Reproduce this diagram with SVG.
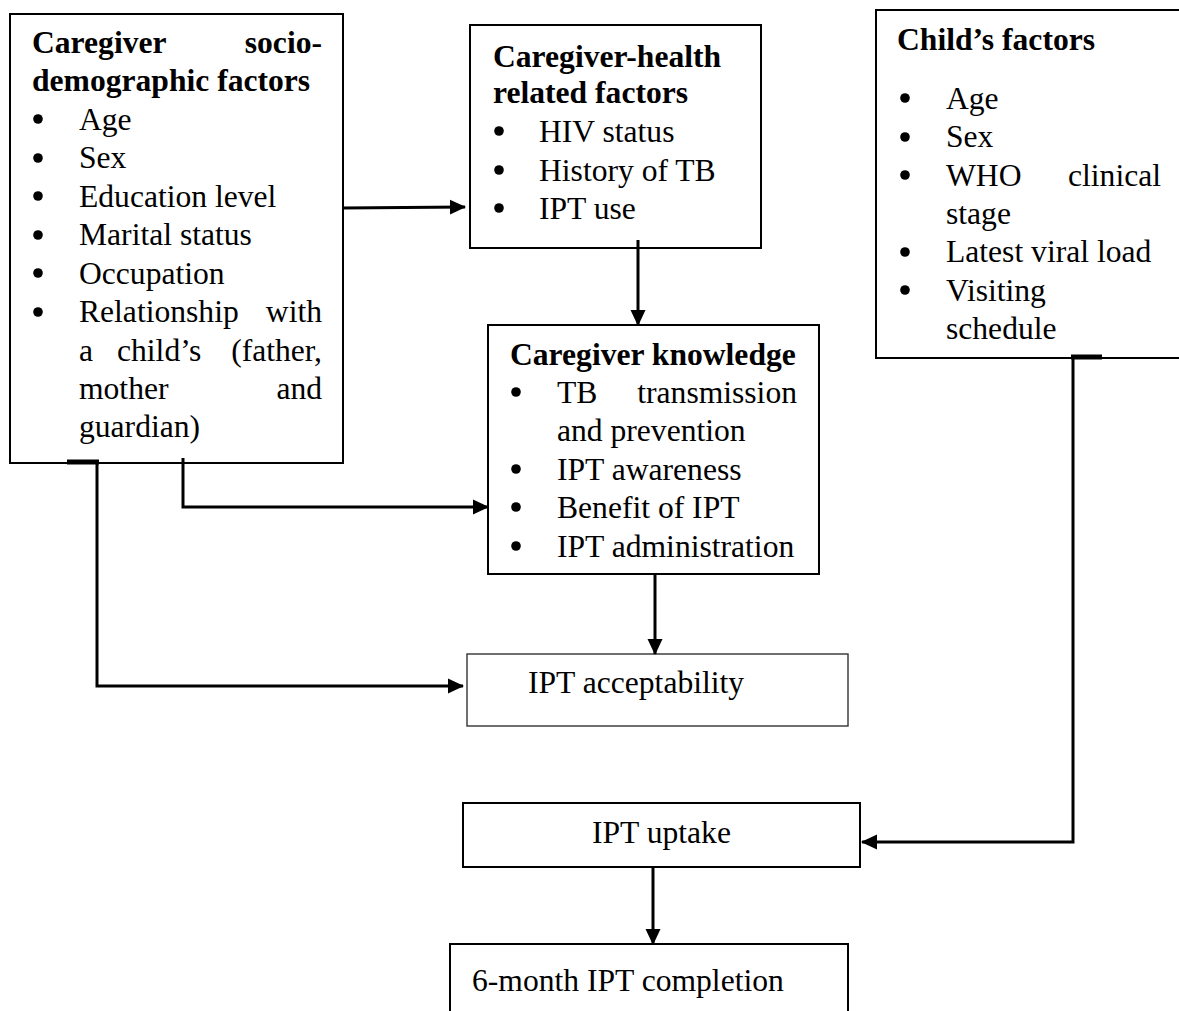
<svg xmlns="http://www.w3.org/2000/svg" width="1179" height="1011" viewBox="0 0 1179 1011" font-family="'Liberation Serif', 'Times New Roman', 'DejaVu Serif', serif">
<style>
  .box{fill:#fff;stroke:#000;stroke-width:2}
  .thin{fill:#fff;stroke:#333;stroke-width:1.4}
  .t{font-size:31.6px;fill:#000}
  .b{font-weight:bold}
  .e{text-anchor:end}
  .bul{fill:#000}
  .c{fill:none;stroke:#000;stroke-width:3}
  .stub{fill:none;stroke:#000;stroke-width:5}
</style>
<defs>
  <marker id="ah" markerUnits="userSpaceOnUse" markerWidth="16" markerHeight="16" viewBox="0 0 16 16" refX="15" refY="8" orient="auto">
    <path d="M0,0.5 L16,8 L0,15.5 Z" fill="#000"/>
  </marker>
</defs>
<rect width="1179" height="1011" fill="#fff"/>

<g id="socio">
  <rect class="box" x="10" y="14" width="333" height="449"/>
  <text class="t b" x="32" y="53">Caregiver</text>
  <text class="t b e" x="322" y="53">socio-</text>
  <text class="t b" x="32" y="91">demographic factors</text>
  <g class="bul">
    <circle cx="38" cy="119" r="4.8"/><circle cx="38" cy="158" r="4.8"/><circle cx="38" cy="196" r="4.8"/>
    <circle cx="38" cy="235" r="4.8"/><circle cx="38" cy="273" r="4.8"/><circle cx="38" cy="312" r="4.8"/>
  </g>
  <text class="t" x="79" y="130">Age</text>
  <text class="t" x="79" y="168">Sex</text>
  <text class="t" x="79" y="207">Education level</text>
  <text class="t" x="79" y="245">Marital status</text>
  <text class="t" x="79" y="284">Occupation</text>
  <text class="t" x="79" y="322">Relationship</text>
  <text class="t e" x="322" y="322">with</text>
  <text class="t" y="361"><tspan x="79">a</tspan><tspan x="117">child’s</tspan></text>
  <text class="t e" x="322" y="361">(father,</text>
  <text class="t" x="79" y="399">mother</text>
  <text class="t e" x="322" y="399">and</text>
  <text class="t" x="79" y="437">guardian)</text>
</g>

<g id="health">
  <rect class="box" x="470" y="25" width="291" height="223"/>
  <text class="t b" x="493" y="67">Caregiver-health</text>
  <text class="t b" x="493" y="103">related factors</text>
  <g class="bul">
    <circle cx="499" cy="131" r="4.8"/><circle cx="499" cy="170" r="4.8"/><circle cx="499" cy="208" r="4.8"/>
  </g>
  <text class="t" x="539" y="142">HIV status</text>
  <text class="t" x="539" y="181">History of TB</text>
  <text class="t" x="539" y="219">IPT use</text>
</g>

<g id="child">
  <rect class="box" x="876" y="10" width="320" height="348"/>
  <text class="t b" x="897" y="50">Child’s factors</text>
  <g class="bul">
    <circle cx="905" cy="98" r="4.8"/><circle cx="905" cy="137" r="4.8"/><circle cx="905" cy="175" r="4.8"/>
    <circle cx="905" cy="252" r="4.8"/><circle cx="905" cy="290" r="4.8"/>
  </g>
  <text class="t" x="946" y="109">Age</text>
  <text class="t" x="946" y="147">Sex</text>
  <text class="t" x="946" y="186">WHO</text>
  <text class="t e" x="1161" y="186">clinical</text>
  <text class="t" x="946" y="224">stage</text>
  <text class="t" x="946" y="262">Latest viral load</text>
  <text class="t" x="946" y="301">Visiting</text>
  <text class="t" x="946" y="339">schedule</text>
</g>

<g id="knowledge">
  <rect class="box" x="488" y="325" width="331" height="249"/>
  <text class="t b" x="510" y="365">Caregiver knowledge</text>
  <g class="bul">
    <circle cx="516" cy="392" r="4.8"/><circle cx="516" cy="469" r="4.8"/><circle cx="516" cy="507" r="4.8"/><circle cx="516" cy="546" r="4.8"/>
  </g>
  <text class="t" x="557" y="403">TB</text>
  <text class="t e" x="797" y="403">transmission</text>
  <text class="t" x="557" y="441">and prevention</text>
  <text class="t" x="557" y="480">IPT awareness</text>
  <text class="t" x="557" y="518">Benefit of IPT</text>
  <text class="t" x="557" y="557">IPT administration</text>
</g>

<g id="acceptability">
  <rect class="thin" x="467" y="654" width="381" height="72"/>
  <text class="t" x="528" y="693">IPT acceptability</text>
</g>

<g id="uptake">
  <rect class="box" x="463" y="803" width="397" height="64"/>
  <text class="t" x="592" y="843">IPT uptake</text>
</g>

<g id="completion">
  <rect class="box" x="450" y="944" width="398" height="80"/>
  <text class="t" x="472" y="991">6-month IPT completion</text>
</g>

<g id="connectors">
  <path class="c" d="M343,208 L465,207" marker-end="url(#ah)"/>
  <path class="c" d="M638,240 L638,325" marker-end="url(#ah)"/>
  <path class="c" d="M183,458 L183,507 L488,507" marker-end="url(#ah)"/>
  <path class="stub" d="M67,462 L99,462"/>
  <path class="c" d="M97,462 L97,686 L463,686" marker-end="url(#ah)"/>
  <path class="c" d="M655,574 L655,654" marker-end="url(#ah)"/>
  <path class="stub" d="M1071,357 L1102,357"/>
  <path class="c" d="M1073,357 L1073,842 L862,842" marker-end="url(#ah)"/>
  <path class="c" d="M653,867 L653,944" marker-end="url(#ah)"/>
</g>
</svg>
